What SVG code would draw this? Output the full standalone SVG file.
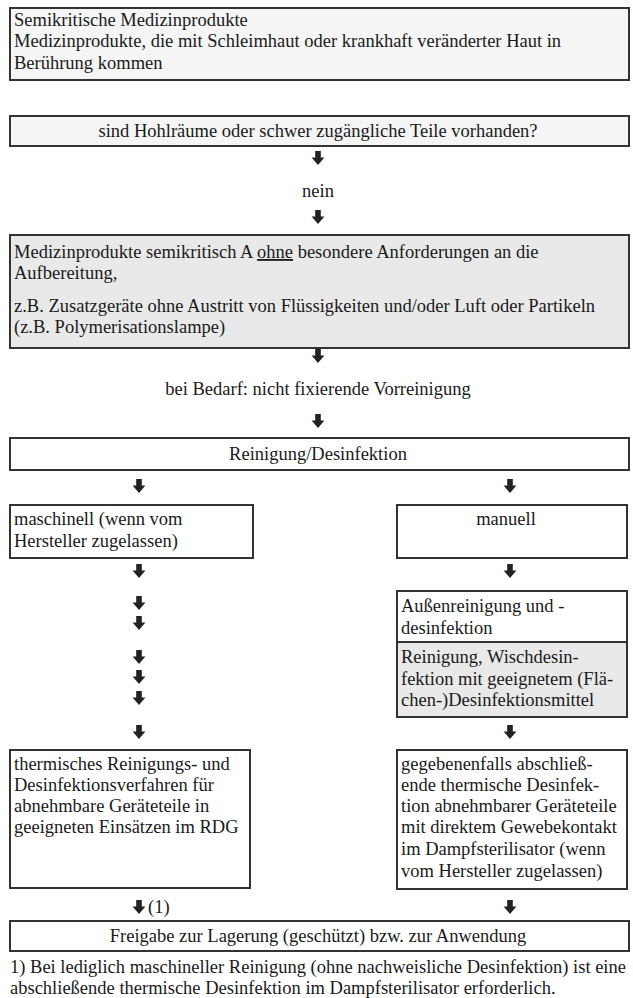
<svg xmlns="http://www.w3.org/2000/svg" width="633" height="998" viewBox="0 0 633 998">
<style>
.box{stroke:#333;stroke-width:2;fill:#fff}
.g1{fill:#f5f5f5}
.g2{fill:#e9e9e9}
text{font-family:"Liberation Serif","Times New Roman",serif;font-size:18.5px;fill:#1a1a1a}
.c{text-anchor:middle}
.arr{fill:#222}
</style>
<defs>
<path id="ar" d="M-2.8,-7 h5.6 v6.5 h3.6 l-6.4,7.5 l-6.4,-7.5 h3.6 z"/>
</defs>
<rect width="633" height="998" fill="#fff"/>
<g id="connectors" class="arr">
<use href="#ar" x="318" y="158"/>
<use href="#ar" x="318" y="217"/>
<use href="#ar" x="318" y="356"/>
<use href="#ar" x="318" y="421"/>
<use href="#ar" x="139" y="486"/>
<use href="#ar" x="510" y="486"/>
<use href="#ar" x="139" y="571"/>
<use href="#ar" x="510" y="571"/>
<use href="#ar" x="139" y="603"/>
<use href="#ar" x="139" y="623"/>
<use href="#ar" x="139" y="657"/>
<use href="#ar" x="139" y="677"/>
<use href="#ar" x="139" y="698"/>
<use href="#ar" x="139" y="732"/>
<use href="#ar" x="510" y="732"/>
<use href="#ar" x="139" y="907"/>
<use href="#ar" x="510" y="907"/>
</g>
<g id="n1">
<rect class="box g1" x="10" y="8" width="619" height="72"/>
<text x="14" y="26">Semikritische Medizinprodukte</text>
<text x="14" y="47">Medizinprodukte, die mit Schleimhaut oder krankhaft veränderter Haut in</text>
<text x="14" y="69">Berührung kommen</text>
</g>
<g id="n2">
<rect class="box g1" x="10" y="116" width="619" height="30"/>
<text class="c" x="318" y="137">sind Hohlräume oder schwer zugängliche Teile vorhanden?</text>
</g>
<g id="lbl-nein"><text class="c" x="318" y="197">nein</text></g>
<g id="n3">
<rect class="box g2" x="10" y="235" width="619" height="113"/>
<text x="14" y="258">Medizinprodukte semikritisch A <tspan text-decoration="underline">ohne</tspan> besondere Anforderungen an die</text>
<text x="14" y="279">Aufbereitung,</text>
<text x="14" y="312">z.B. Zusatzgeräte ohne Austritt von Flüssigkeiten und/oder Luft oder Partikeln</text>
<text x="14" y="333">(z.B. Polymerisationslampe)</text>
</g>
<g id="lbl-bedarf"><text class="c" x="318" y="395">bei Bedarf: nicht fixierende Vorreinigung</text></g>
<g id="n4">
<rect class="box" x="10" y="438" width="619" height="32"/>
<text class="c" x="318" y="460">Reinigung/Desinfektion</text>
</g>
<g id="n5">
<rect class="box" x="10" y="505" width="243" height="53"/>
<text x="14" y="525">maschinell (wenn vom</text>
<text x="14" y="547">Hersteller zugelassen)</text>
</g>
<g id="n6">
<rect class="box" x="397" y="505" width="230" height="53"/>
<text class="c" x="506" y="525">manuell</text>
</g>
<g id="n7">
<rect class="box" x="397" y="591" width="230" height="51"/>
<text x="401" y="612">Außenreinigung und -</text>
<text x="401" y="634">desinfektion</text>
</g>
<g id="n8">
<rect class="box g2" x="397" y="642" width="230" height="75"/>
<text x="401" y="663">Reinigung, Wischdesin-</text>
<text x="401" y="685">fektion mit geeignetem (Flä-</text>
<text x="401" y="706">chen-)Desinfektionsmittel</text>
</g>
<g id="n9">
<rect class="box" x="10" y="750" width="240" height="138"/>
<text x="14" y="770">thermisches Reinigungs- und</text>
<text x="14" y="791">Desinfektionsverfahren für</text>
<text x="14" y="812">abnehmbare Geräteteile in</text>
<text x="14" y="833">geeigneten Einsätzen im RDG</text>
</g>
<g id="n10">
<rect class="box" x="397" y="750" width="230" height="139"/>
<text x="401" y="770">gegebenenfalls abschließ-</text>
<text x="401" y="791">ende thermische Desinfek-</text>
<text x="401" y="812">tion abnehmbarer Geräteteile</text>
<text x="401" y="833">mit direktem Gewebekontakt</text>
<text x="401" y="855">im Dampfsterilisator (wenn</text>
<text x="401" y="877">vom Hersteller zugelassen)</text>
</g>
<g id="lbl-1"><text x="148" y="913">(1)</text></g>
<g id="n11">
<rect class="box" x="10" y="921" width="619" height="30"/>
<text class="c" x="318" y="942">Freigabe zur Lagerung (geschützt) bzw. zur Anwendung</text>
</g>
<g id="footnote">
<text x="10" y="973">1) Bei lediglich maschineller Reinigung (ohne nachweisliche Desinfektion) ist eine</text>
<text x="10" y="994">abschließende thermische Desinfektion im Dampfsterilisator erforderlich.</text>
</g>
</svg>
